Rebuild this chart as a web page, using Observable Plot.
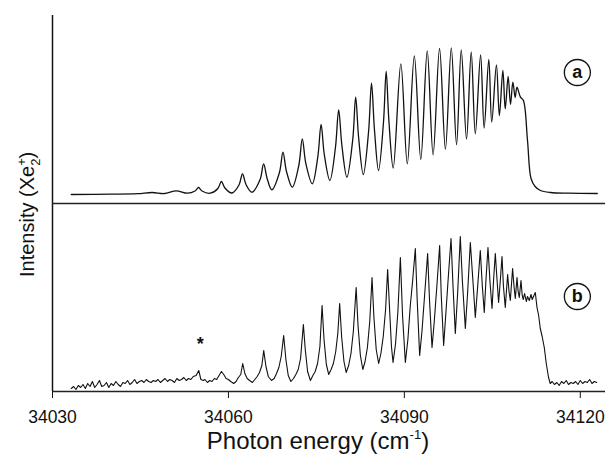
<!DOCTYPE html>
<html><head><meta charset="utf-8">
<script src="https://cdn.jsdelivr.net/npm/d3@7"></script>
<script src="https://cdn.jsdelivr.net/npm/@observablehq/plot@0.6"></script>
<style>body{margin:0;background:#fff}</style>
</head><body><div id="chart"></div>
<script>
const panels = ["a", "b"];
const tickValues = [34030, 34060, 34090, 34120];

// Panel a: smooth scan (photon energy, cm-1 / intensity, a.u.)
const energyA = [
  34033.2, 34040.0, 34044.5,
  34047.0, 34049.1,
  34051.1, 34053.0,
  34054.3, 34054.9, 34055.5, 34056.9,
  34058.2, 34058.8, 34059.4, 34060.6,
  34061.8, 34062.4, 34063.0, 34064.0,
  34065.4, 34066.0, 34066.6, 34067.4,
  34068.7, 34069.3, 34069.9, 34070.9,
  34072.0, 34072.6, 34073.2, 34074.3,
  34075.25, 34075.8, 34076.35, 34077.3,
  34078.25, 34078.8, 34079.35, 34080.2,
  34081.2, 34081.7, 34082.2, 34083.0,
  34083.9, 34084.4, 34084.9, 34085.6,
  34086.45, 34086.9, 34087.35, 34088.1,
  34089.4, 34090.5,
  34091.7, 34092.8,
  34093.9, 34094.9,
  34096.0, 34097.0,
  34098.0, 34098.9,
  34099.7, 34100.6,
  34101.4, 34102.1,
  34103.0, 34103.6,
  34104.4, 34104.9,
  34105.7, 34106.2,
  34106.8, 34107.2,
  34107.7, 34108.1,
  34108.5, 34108.9,
  34109.2, 34109.8, 34110.3, 34111.0, 34111.6, 34112.3, 34113.2, 34114.9, 34118.0, 34122.9
];
const intensityA = [
  9, 9.3, 9.8,
  11, 10,
  12.7, 10.3,
  12.5, 16, 12.5, 10.3,
  15, 22, 15.5, 10.5,
  18.5, 29.7, 19, 11.3,
  24, 39.7, 25, 13.7,
  31, 51.3, 32, 16.3,
  38, 64.7, 40, 19.7,
  47, 79, 49, 23,
  56, 93.7, 58, 26.3,
  64, 106.3, 66, 29,
  72, 120.3, 74, 33,
  82, 132, 84, 35.5,
  139.7, 39.7,
  147.5, 44,
  152.5, 48.7,
  155, 54.2,
  155.7, 58.8,
  153.5, 64.3,
  151.5, 69.7,
  148.5, 75.5,
  144, 81.3,
  138.7, 88,
  133, 94.7,
  127, 99,
  121.3, 106,
  116.3, 106.3, 103, 63, 25, 17, 13, 11, 10.3, 10
];

// Panel b: noisy scan
const energyB = [
  34033.2, 34033.6, 34034.0, 34034.4, 34034.8, 34035.2, 34035.6, 34036.0, 34036.4, 34036.8,
  34037.2, 34037.6, 34038.0, 34038.4, 34038.8, 34039.2, 34039.6, 34040.0, 34040.4, 34040.8,
  34041.2, 34041.6, 34042.0, 34042.4, 34042.8, 34043.2, 34043.6, 34044.0, 34044.4, 34044.8,
  34045.2, 34045.6, 34046.0, 34046.4, 34046.8, 34047.2, 34047.6, 34048.0, 34048.4, 34048.8,
  34049.2, 34049.6, 34050.0, 34050.4, 34050.8, 34051.2, 34051.6, 34052.0, 34052.4, 34052.8,
  34053.2, 34053.6, 34054.0,
  34054.5, 34054.94, 34055.3, 34055.7, 34056.0, 34056.42, 34056.8, 34057.2, 34057.6, 34058.0,
  34058.4, 34058.81, 34059.2, 34059.6, 34060.0, 34060.4, 34060.9, 34061.3, 34061.7, 34062.1,
  34062.44, 34062.8, 34063.2, 34063.6, 34064.09, 34064.5, 34064.9, 34065.3, 34065.7, 34066.02,
  34066.4, 34066.8, 34067.33, 34067.8, 34068.2, 34068.6, 34069.0, 34069.42, 34069.8, 34070.2,
  34070.65, 34071.1, 34071.5, 34071.9, 34072.3, 34072.78, 34073.1, 34073.5, 34073.98, 34074.4,
  34074.8, 34075.2, 34075.6, 34075.97, 34076.3, 34076.7, 34077.1, 34077.5, 34077.9, 34078.3,
  34078.65, 34078.97, 34079.3, 34079.7, 34080.08, 34080.5, 34080.9, 34081.3, 34081.78, 34082.1,
  34082.5, 34082.92, 34083.3, 34083.7, 34084.1, 34084.49, 34084.8, 34085.2, 34085.62, 34086.0,
  34086.4, 34086.8, 34087.15, 34087.5, 34087.8, 34088.07, 34088.5, 34088.9, 34089.32, 34089.7,
  34090.17, 34090.6, 34091.0, 34091.4, 34091.87, 34092.2, 34092.61, 34093.0, 34093.5, 34093.97,
  34094.3, 34094.72, 34095.1, 34095.6, 34096.02, 34096.3, 34096.70, 34097.1, 34097.5, 34097.96,
  34098.3, 34098.69, 34099.1, 34099.54, 34099.9, 34100.40, 34100.8, 34101.25, 34101.7, 34102.10,
  34102.5, 34102.95, 34103.3, 34103.63, 34103.9, 34104.26, 34104.6, 34104.95, 34105.2, 34105.51,
  34105.8, 34106.07, 34106.35, 34106.65, 34106.9, 34107.21, 34107.61, 34107.85, 34108.07, 34108.46,
  34108.7, 34108.92, 34109.21, 34109.4, 34109.60, 34109.89, 34110.1, 34110.28, 34110.5, 34110.8,
  34111.0, 34111.3, 34111.6, 34111.8, 34112.1, 34112.33, 34112.62, 34112.9, 34113.18, 34113.5,
  34113.86, 34114.2, 34114.59, 34114.88, 34115.2, 34115.6, 34116.0, 34116.4, 34116.8, 34117.2,
  34117.6, 34118.0, 34118.4, 34118.8, 34119.2, 34119.6, 34120.0, 34120.4, 34120.8, 34121.2,
  34121.6, 34122.0, 34122.4, 34122.8
];
const intensityB = [
  3, 5, 2, 6, 4, 7, 3, 8, 5, 10,
  4, 7, 11, 5, 6, 9, 4, 8, 6, 10,
  7, 5, 9, 8, 11, 7, 9, 12, 8, 10,
  11, 9, 12, 10, 9, 11, 10, 12, 9, 11,
  13, 10, 12, 11, 9, 13, 11, 12, 14, 11,
  13, 12, 15,
  16, 21, 12, 11, 12, 9, 11, 10, 13, 12,
  16, 20, 17, 13, 12, 10, 8, 10, 14, 17,
  28, 18, 13, 11, 9, 12, 15, 19, 26, 41,
  25, 15, 11, 13, 18, 24, 35, 56, 32, 16,
  10, 13, 17, 22, 33, 67, 42, 20, 11, 16,
  20, 28, 45, 86, 52, 27, 17, 22, 28, 40,
  58, 88, 55, 30, 19, 26, 38, 60, 104, 66,
  36, 22, 30, 44, 70, 114, 75, 42, 28, 38,
  55, 82, 122, 80, 45, 29, 48, 80, 134, 75,
  29, 52, 85, 110, 143, 90, 36, 60, 100, 138,
  90, 44, 70, 110, 146, 95, 46, 80, 115, 153,
  105, 58, 100, 155, 110, 63, 100, 149, 110, 74,
  105, 141, 105, 79, 110, 144, 110, 83, 110, 138,
  112, 89, 110, 135, 105, 84, 117, 100, 91, 123,
  105, 93, 114, 100, 94, 111, 96, 92, 98, 90,
  95, 91, 97, 92, 96, 99, 84, 76, 63, 55,
  44, 28, 14, 8, 10, 7, 9, 6, 10, 8,
  11, 7, 9, 8, 10, 7, 11, 8, 10, 9,
  12, 8, 10, 9
];

const dataA = energyA.map((e, i) => ({panel: "a", energy: e, intensity: intensityA[i]}));
const dataB = energyB.map((e, i) => ({panel: "b", energy: e, intensity: intensityB[i]}));
const panelTags = [
  {panel: "a", energy: 34119.5, intensity: 131},
  {panel: "b", energy: 34119.5, intensity: 95}
];
const starTag = [{panel: "b", energy: 34055.2, intensity: 50, text: "*"}];

const font = "'Liberation Sans', Arial, Helvetica, sans-serif";
const svg = Plot.plot({
  width: 605, height: 455,
  marginLeft: 52, marginRight: 0, marginTop: 15, marginBottom: 64,
  style: {fontFamily: font, fontSize: "17.5px", color: "#111", background: "#fff"},
  x: {domain: [34030, 34124.3], ticks: tickValues, tickFormat: d => String(d), tickSize: 7, tickPadding: 12, label: null},
  y: {domain: [0, 188], axis: null},
  fy: {domain: panels, axis: null, padding: 0},
  marks: [
    Plot.ruleX([34030], {stroke: "#111", strokeWidth: 1.5}),
    Plot.ruleY([0], {stroke: "#222", strokeWidth: 1.6}),
    Plot.line(dataA, {x: "energy", y: "intensity", fy: "panel", curve: "catmull-rom", stroke: "#111", strokeWidth: 1.3}),
    Plot.line(dataB, {x: "energy", y: "intensity", fy: "panel", curve: "linear", stroke: "#111", strokeWidth: 1.1}),
    Plot.dot(panelTags, {x: "energy", y: "intensity", fy: "panel", r: 13, stroke: "#111", strokeWidth: 1.3, fill: "#fff"}),
    Plot.text(panelTags, {x: "energy", y: "intensity", fy: "panel", text: "panel", fontSize: 18, fontWeight: "bold", fill: "#111"}),
    Plot.text(starTag, {x: "energy", y: "intensity", fy: "panel", text: "text", fontSize: 18, fontWeight: "bold", fill: "#111", dy: 3})
  ]
});

const s = d3.select(svg);
const yl = s.append("text")
  .attr("transform", "translate(34,277) rotate(-90)")
  .attr("text-anchor", "start")
  .attr("fill", "#111")
  .style("font-family", font).style("font-size", "20px");
yl.append("tspan").text("Intensity (Xe");
yl.append("tspan").style("font-size", "13px").attr("dy", -8).text("+");
yl.append("tspan").style("font-size", "13px").attr("dx", -7.5).attr("dy", 14).text("2");
yl.append("tspan").attr("dy", -6).text(")");

const xl = s.append("text")
  .attr("x", 318).attr("y", 449)
  .attr("text-anchor", "middle")
  .attr("fill", "#111")
  .style("font-family", font).style("font-size", "24px");
xl.append("tspan").text("Photon energy (cm");
xl.append("tspan").style("font-size", "13px").attr("dy", -10).text("-1");
xl.append("tspan").attr("dy", 10).text(")");

document.getElementById("chart").appendChild(svg);
</script>
</body></html>
